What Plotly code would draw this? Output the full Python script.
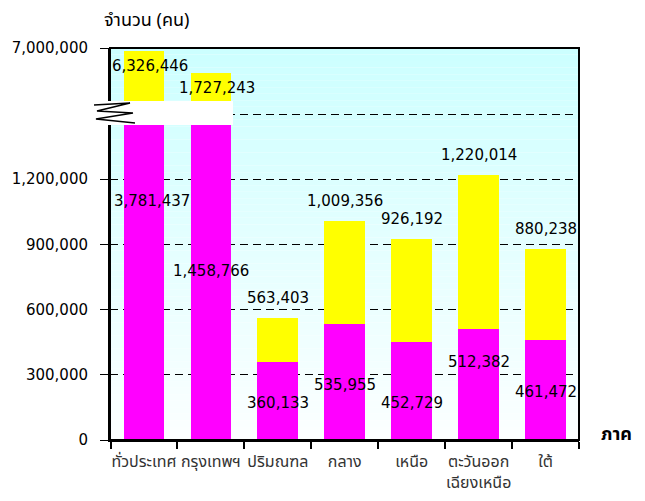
import plotly.graph_objects as go

# data
regions = ['ทั่วประเทศ', 'กรุงเทพฯ', 'ปริมณฑล', 'กลาง', 'เหนือ',
           'ตะวันออก<br>เฉียงเหนือ', 'ใต้']
lower_part = [3781437, 1458766, 360133, 535955, 452729, 512382, 461472]
totals = [6326446, 1727243, 563403, 1009356, 926192, 1220014, 880238]
lower_ticks = [0, 300000, 600000, 900000, 1200000]
upper_ticks = [7000000]

upper_part = [t - b for t, b in zip(totals, lower_part)]

# broken axis settings
LOWER_TOP = 1560000
UPPER_MIN = -4200000
UPPER_MAX = 7000000

# plot area in page pixels (used for decorations only)
PAGE_W, PAGE_H = 645, 501
OFF = 8  # default body margin of the page
L, R, T, B = 110, 579, 48, 440
SPLIT = 101
BREAK_LOW = 125
W, H = PAGE_W - OFF, PAGE_H - OFF


def px(x):
    return (x - L) / (R - L)


def py(y):
    return (B - y) / (B - T)


FONT = "Tahoma, 'Noto Sans Thai', 'DejaVu Sans', sans-serif"
NUM_FONT = "'DejaVu Sans', Verdana, sans-serif"

fig = go.Figure()

fig.add_trace(go.Bar(x=regions, y=lower_part, marker_color='#FF00FF',
                     marker_line_width=0, xaxis='x', yaxis='y'))
fig.add_trace(go.Bar(x=regions, y=upper_part, marker_color='#FFFF00',
                     marker_line_width=0, xaxis='x', yaxis='y'))

# bars that go beyond the lower segment continue above the break
big = [i for i, t in enumerate(totals) if t > LOWER_TOP]
fig.add_trace(go.Bar(x=[regions[i] for i in big],
                     y=[totals[i] - UPPER_MIN for i in big],
                     base=UPPER_MIN, marker_color='#FFFF00',
                     marker_line_width=0, xaxis='x', yaxis='y2'))

annotations = []
mid_nudge = [70, 11, -2, -3, -12, 22, -2]
for i, r in enumerate(regions):
    v = lower_part[i]
    annotations.append(dict(
        x=r, y=min(v, LOWER_TOP) / 2, xref='x', yref='y',
        text=f'{v:,}', showarrow=False, yshift=mid_nudge[i],
        xshift=8 if i == 0 else 0,
        font=dict(family=NUM_FONT, size=15, color='black')))
    t = totals[i]
    if i in big:
        annotations.append(dict(
            x=r, y=t, xref='x', yref='y2', text=f'{t:,}', showarrow=False,
            yanchor='middle', yshift=-15, xshift=6,
            font=dict(family=NUM_FONT, size=15, color='black')))
    else:
        annotations.append(dict(
            x=r, y=t, xref='x', yref='y', text=f'{t:,}', showarrow=False,
            yanchor='middle', yshift=20,
            font=dict(family=NUM_FONT, size=15, color='black')))

annotations.append(dict(x=px(102), y=py(21), xref='paper', yref='paper',
                        xanchor='left', yanchor='middle', text='จำนวน (คน)',
                        showarrow=False,
                        font=dict(family=FONT, size=18, color='black')))
annotations.append(dict(x=px(599), y=py(434), xref='paper', yref='paper',
                        xanchor='left', yanchor='middle', text='<b>ภาค</b>',
                        showarrow=False,
                        font=dict(family=FONT, size=18, color='black')))

shapes = []
# background gradient (light cyan at top to white at bottom)
n = 60
for k in range(n):
    f = (k + 0.5) / n
    g = int(round(252 - (252 - 204) * f))
    shapes.append(dict(type='rect', xref='paper', yref='paper',
                       x0=0, x1=1, y0=k / n, y1=(k + 1) / n,
                       fillcolor=f'rgb({g},255,255)', line_width=0,
                       layer='below'))
# frame
shapes.append(dict(type='rect', xref='paper', yref='paper', x0=0, x1=1,
                   y0=0, y1=1, line=dict(color='black', width=2),
                   layer='above'))
# axis break
shapes.append(dict(type='rect', xref='paper', yref='paper',
                   x0=px(99), x1=px(233), y0=py(BREAK_LOW), y1=py(SPLIT),
                   fillcolor='white', line_width=0, layer='above'))
zig = [(94, 105), (130, 103), (97, 111), (133, 113), (96, 119), (135, 123)]
path = 'M ' + ' L '.join(f'{px(a):.4f},{py(b):.4f}' for a, b in zig)
shapes.append(dict(type='path', xref='paper', yref='paper', path=path,
                   line=dict(color='black', width=1.5), layer='above'))

split_frac = py(SPLIT)

fig.update_layout(
    width=W, height=H,
    margin=dict(l=L - OFF, r=W - (R - OFF), t=T - OFF, b=H - (B - OFF)),
    paper_bgcolor='white',
    plot_bgcolor='rgba(0,0,0,0)',
    barmode='stack',
    bargap=0.39,
    showlegend=False,
    font=dict(family=FONT, size=15, color='black'),
    xaxis=dict(
        domain=[0, 1], anchor='y', automargin=False, tickangle=0,
        showline=True, linecolor='black', linewidth=2,
        ticks='outside', tickson='boundaries', ticklen=7, tickwidth=2,
        tickcolor='black', showgrid=False, ticklabelstandoff=6,
        tickfont=dict(family=FONT, size=16, color='#333333'),
    ),
    yaxis=dict(
        domain=[0, split_frac], range=[0, LOWER_TOP], automargin=False,
        tickvals=lower_ticks + [1500000],
        ticktext=[f'{v:,}' for v in lower_ticks] + [''],
        showline=True, linecolor='black', linewidth=2,
        ticks='outside', ticklen=8, tickwidth=1, tickcolor='black',
        showgrid=True, gridcolor='black', gridwidth=1, griddash='8px,5px',
        zeroline=False, ticklabelstandoff=9,
        tickfont=dict(family=NUM_FONT, size=15, color='black'),
    ),
    yaxis2=dict(
        domain=[split_frac, 1], range=[UPPER_MIN, UPPER_MAX], anchor='x',
        automargin=False,
        tickvals=upper_ticks, ticktext=[f'{v:,}' for v in upper_ticks],
        showline=True, linecolor='black', linewidth=2,
        ticks='outside', ticklen=8, tickwidth=1, tickcolor='black',
        showgrid=False, zeroline=False, ticklabelstandoff=9,
        tickfont=dict(family=NUM_FONT, size=15, color='black'),
    ),
    annotations=annotations,
    shapes=shapes,
)

fig.write_html("out.html")
